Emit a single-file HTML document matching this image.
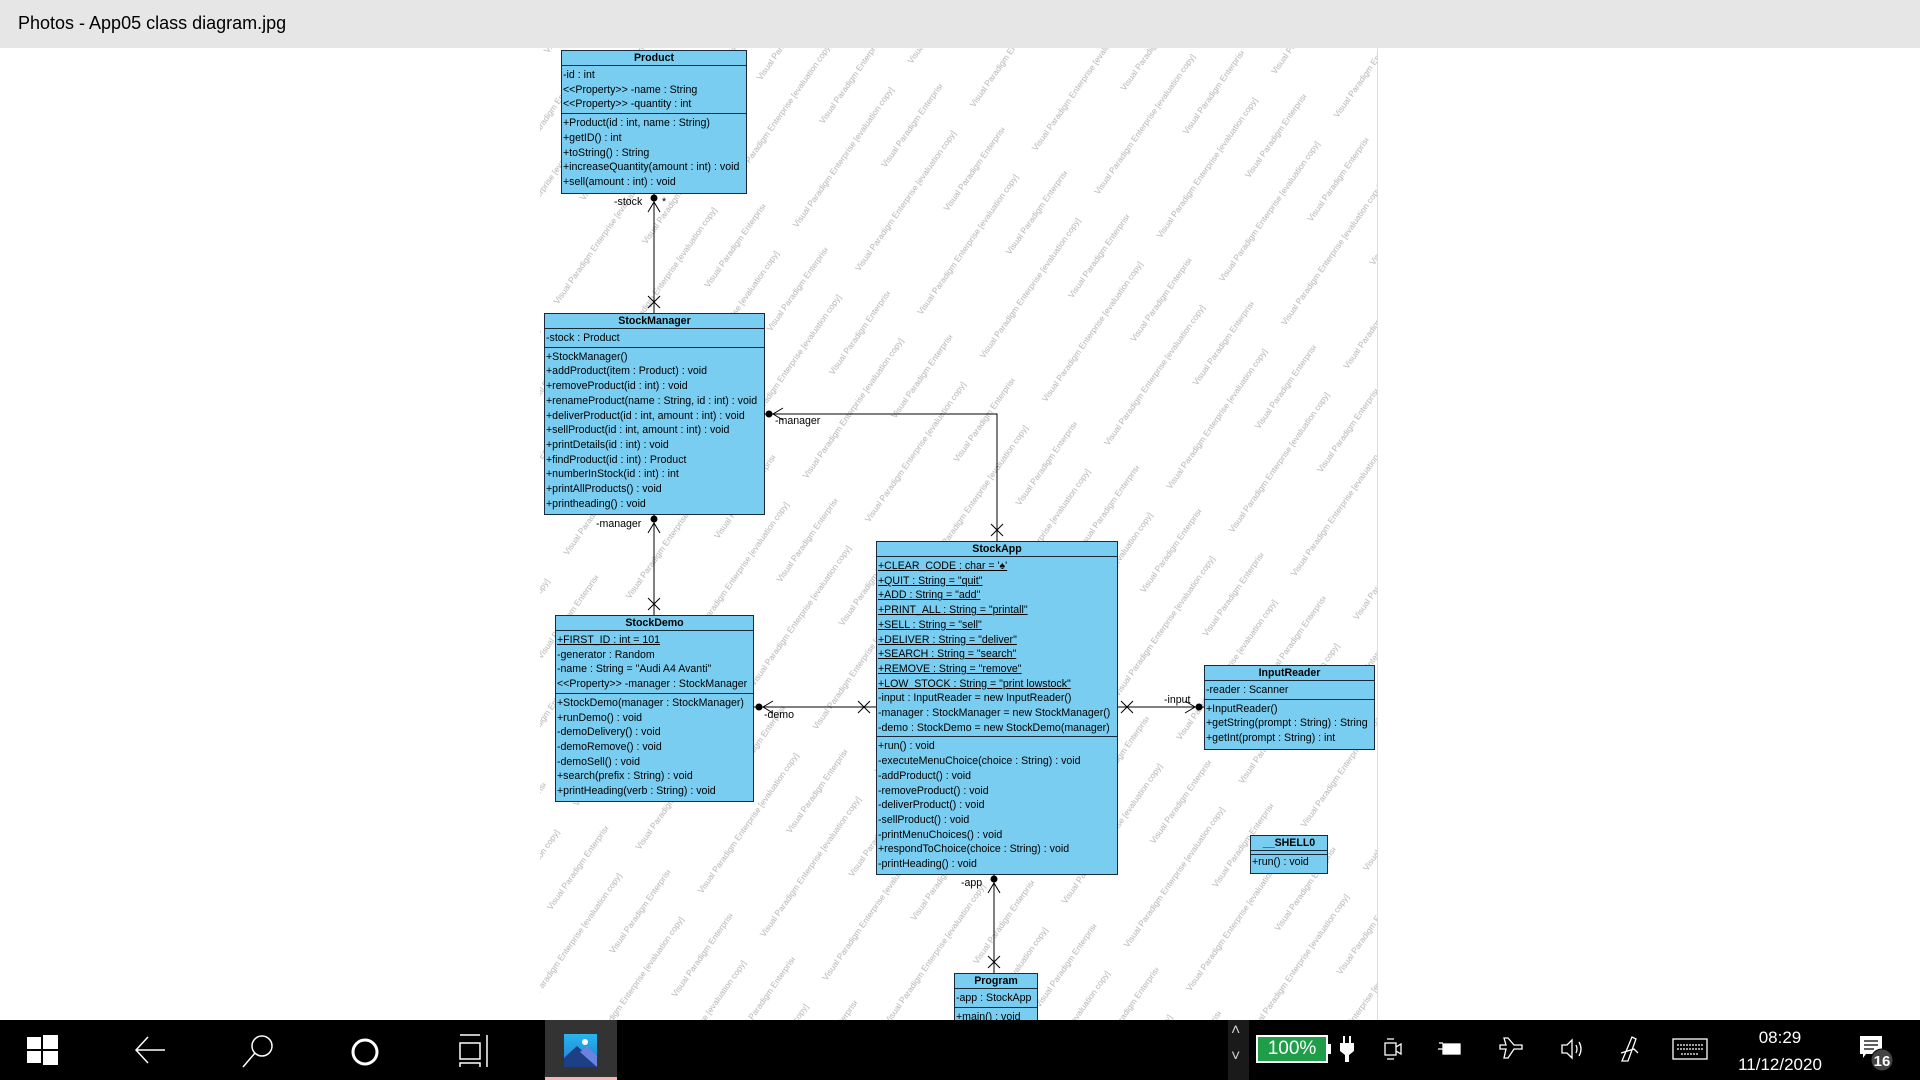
<!DOCTYPE html>
<html><head><meta charset="utf-8"><style>
*{margin:0;padding:0;box-sizing:border-box}
body{width:1920px;height:1080px;position:relative;overflow:hidden;background:#fff;font-family:"Liberation Sans",Arial,sans-serif}
.title{position:absolute;left:0;top:0;width:1920px;height:48px;background:#e6e6e6;font-size:18px;color:#000;padding:13px 0 0 18px}
.box{position:absolute;background:#79cdf0;border:1px solid #1a2a3a;font-size:10.6px;color:#000;overflow:hidden;white-space:nowrap;z-index:2}
.box .h{height:15px;line-height:14px;text-align:center;font-weight:bold;border-bottom:1px solid #1a2a3a}
.box .s{padding:2px 0 1px 1px;line-height:14.7px}
.box .s+.s{border-top:1px solid #1a2a3a}
u{text-decoration:underline}
.lbl{position:absolute;font-size:10.6px;color:#000;z-index:3}
.tb{position:absolute;left:0;top:1020px;width:1920px;height:60px;background:#000;z-index:10}
.tb *{position:absolute}
</style></head><body>
<div class="title">Photos - App05 class diagram.jpg</div>

<svg style="position:absolute;left:540px;top:48px;z-index:1" width="838" height="972">
<defs><pattern id="wm" width="200" height="76" patternUnits="userSpaceOnUse" patternTransform="rotate(-55)">
<text x="0" y="10" font-family="Liberation Sans" font-size="8.5" fill="#a0a0a0">Visual Paradigm Enterprise [evaluation copy]</text>
<text x="100" y="48" font-family="Liberation Sans" font-size="8.5" fill="#a0a0a0">Visual Paradigm Enterprise [evaluation copy]</text>
</pattern></defs>
<rect width="838" height="972" fill="url(#wm)" opacity="0.8"/>
<line x1="837.5" y1="0" x2="837.5" y2="972" stroke="#ddd"/>
</svg>

<svg style="position:absolute;left:0;top:0;z-index:4;pointer-events:none" width="1920" height="1080" fill="none" stroke="#000" stroke-width="1">
<line x1="654" y1="194" x2="654" y2="313"/>
<circle cx="654" cy="198" r="3" fill="#000"/>
<polyline points="648,212 654,202 660,212"/>
<path d="M648,296 L660,308 M660,296 L648,308"/>
<line x1="654" y1="514" x2="654" y2="615"/>
<circle cx="654" cy="519" r="3" fill="#000"/>
<polyline points="648,533 654,523 660,533"/>
<path d="M648,598 L660,610 M660,598 L648,610"/>
<polyline points="997,541 997,414 764,414"/>
<circle cx="769" cy="414" r="3" fill="#000"/>
<polyline points="783,408 773,414 783,420"/>
<path d="M991,524 L1003,536 M1003,524 L991,536"/>
<line x1="753" y1="707" x2="876" y2="707"/>
<circle cx="759" cy="707" r="3" fill="#000"/>
<polyline points="773,701 763,707 773,713"/>
<path d="M858,701 L870,713 M870,701 L858,713"/>
<line x1="1117" y1="707" x2="1204" y2="707"/>
<circle cx="1199" cy="707" r="3" fill="#000"/>
<polyline points="1185,701 1195,707 1185,713"/>
<path d="M1121,701 L1133,713 M1133,701 L1121,713"/>
<line x1="994" y1="874" x2="994" y2="973"/>
<circle cx="994" cy="879" r="3" fill="#000"/>
<polyline points="988,893 994,883 1000,893"/>
<path d="M988,956 L1000,968 M1000,956 L988,968"/>
</svg>
<div class="lbl" style="left:614px;top:196px">-stock</div>
<div class="lbl" style="left:662px;top:196px">*</div>
<div class="lbl" style="left:596px;top:518px">-manager</div>
<div class="lbl" style="left:775px;top:415px">-manager</div>
<div class="lbl" style="left:764px;top:709px">-demo</div>
<div class="lbl" style="left:1164px;top:694px">-input</div>
<div class="lbl" style="left:961px;top:877px">-app</div>

<div class="box" style="left:561px;top:50px;width:186px;height:144px">
<div class="h">Product</div>
<div class="s"><div>-id : int</div><div>&lt;&lt;Property&gt;&gt; -name : String</div><div>&lt;&lt;Property&gt;&gt; -quantity : int</div></div>
<div class="s"><div>+Product(id : int, name : String)</div><div>+getID() : int</div><div>+toString() : String</div><div>+increaseQuantity(amount : int) : void</div><div>+sell(amount : int) : void</div></div>
</div>

<div class="box" style="left:544px;top:313px;width:221px;height:202px">
<div class="h">StockManager</div>
<div class="s"><div>-stock : Product</div></div>
<div class="s"><div>+StockManager()</div><div>+addProduct(item : Product) : void</div><div>+removeProduct(id : int) : void</div><div>+renameProduct(name : String, id : int) : void</div><div>+deliverProduct(id : int, amount : int) : void</div><div>+sellProduct(id : int, amount : int) : void</div><div>+printDetails(id : int) : void</div><div>+findProduct(id : int) : Product</div><div>+numberInStock(id : int) : int</div><div>+printAllProducts() : void</div><div>+printheading() : void</div></div>
</div>

<div class="box" style="left:555px;top:615px;width:199px;height:187px">
<div class="h">StockDemo</div>
<div class="s"><div><u>+FIRST_ID : int = 101</u></div><div>-generator : Random</div><div>-name : String = "Audi A4 Avanti"</div><div>&lt;&lt;Property&gt;&gt; -manager : StockManager</div></div>
<div class="s"><div>+StockDemo(manager : StockManager)</div><div>+runDemo() : void</div><div>-demoDelivery() : void</div><div>-demoRemove() : void</div><div>-demoSell() : void</div><div>+search(prefix : String) : void</div><div>+printHeading(verb : String) : void</div></div>
</div>

<div class="box" style="left:876px;top:541px;width:242px;height:334px">
<div class="h">StockApp</div>
<div class="s"><div><u>+CLEAR_CODE : char = '♠'</u></div><div><u>+QUIT : String = "quit"</u></div><div><u>+ADD : String = "add"</u></div><div><u>+PRINT_ALL : String = "printall"</u></div><div><u>+SELL : String = "sell"</u></div><div><u>+DELIVER : String = "deliver"</u></div><div><u>+SEARCH : String = "search"</u></div><div><u>+REMOVE : String = "remove"</u></div><div><u>+LOW_STOCK : String = "print lowstock"</u></div><div>-input : InputReader = new InputReader()</div><div>-manager : StockManager = new StockManager()</div><div>-demo : StockDemo = new StockDemo(manager)</div></div>
<div class="s"><div>+run() : void</div><div>-executeMenuChoice(choice : String) : void</div><div>-addProduct() : void</div><div>-removeProduct() : void</div><div>-deliverProduct() : void</div><div>-sellProduct() : void</div><div>-printMenuChoices() : void</div><div>+respondToChoice(choice : String) : void</div><div>-printHeading() : void</div></div>
</div>

<div class="box" style="left:1204px;top:665px;width:171px;height:85px">
<div class="h">InputReader</div>
<div class="s"><div>-reader : Scanner</div></div>
<div class="s"><div>+InputReader()</div><div>+getString(prompt : String) : String</div><div>+getInt(prompt : String) : int</div></div>
</div>

<div class="box" style="left:1250px;top:835px;width:78px;height:39px">
<div class="h">__SHELL0</div>
<div class="s" style="padding:0;height:3px"></div>
<div class="s" style="padding-top:0"><div>+run() : void</div></div>
</div>

<div class="box" style="left:954px;top:973px;width:84px;height:60px">
<div class="h">Program</div>
<div class="s"><div>-app : StockApp</div></div>
<div class="s"><div>+main() : void</div></div>
</div>

<div class="tb">
<svg style="left:27px;top:14px" width="31" height="31"><g fill="#fff"><rect x="0" y="3" width="14" height="12"/><rect x="16" y="1" width="15" height="14"/><rect x="0" y="17" width="14" height="12"/><rect x="16" y="17" width="15" height="14"/></g></svg>
<svg style="left:134px;top:14px" width="32" height="32" fill="none" stroke="#fff" stroke-width="1.5"><path d="M31,16 H2 M14,3 L2,16 L14,29"/></svg>
<svg style="left:242px;top:14px" width="32" height="34" fill="none" stroke="#fff" stroke-width="1.5"><circle cx="20" cy="12" r="10"/><path d="M13,19 L1,33"/></svg>
<svg style="left:349px;top:16px" width="32" height="32" fill="none" stroke="#fff" stroke-width="3"><circle cx="16" cy="16" r="12"/></svg>
<svg style="left:458px;top:14px" width="32" height="34" fill="none" stroke="#fff" stroke-width="1.5"><path d="M2,1 H22 M2,9 H22 V25 H2 Z M2,33 V29 H22 V33 M29,1 V33"/></svg>
<div style="left:545px;top:0;width:72px;height:60px;background:#333"></div>
<div style="left:545px;top:57px;width:72px;height:3px;background:#f8b4b4"></div>
<svg style="left:564px;top:14px" width="33" height="33"><defs><linearGradient id="g" x1="0" y1="0" x2="0" y2="1"><stop offset="0" stop-color="#2ab4ef"/><stop offset="1" stop-color="#1a7fd0"/></linearGradient></defs><rect width="33" height="33" fill="url(#g)"/><circle cx="21" cy="8" r="3" fill="#fff"/><path d="M0,33 L0,24 L13,12 L33,30 L33,33Z" fill="#1d3f85"/><path d="M16,18 L23,12 L33,22 L33,33Z" fill="#6b83e0"/></svg>
<div style="left:1228px;top:0;width:21px;height:60px;background:#1a1a1a"></div>
<div style="left:1231px;top:2px;color:#ccc;font-size:16px">˄</div>
<div style="left:1231px;top:28px;color:#ccc;font-size:16px">˅</div>
<div style="left:1256px;top:15px;width:72px;height:28px;border:2px solid #fff;background:#1f9e4a;color:#fff;font-size:19px;line-height:24px;text-align:center">100%</div>
<div style="left:1328px;top:24px;width:3px;height:10px;background:#fff"></div>
<svg style="left:1340px;top:16px" width="14" height="26" fill="#fff"><rect x="3" y="0" width="2" height="7"/><rect x="9" y="0" width="2" height="7"/><path d="M0,7 H14 V15 L9,19 V26 H5 V19 L0,15Z"/></svg>
<svg style="left:1383px;top:17px" width="20" height="24" fill="none" stroke="#fff" stroke-width="1.3"><rect x="2" y="6" width="11" height="12"/><path d="M13,10 L18,7 V17 L13,14 M4,2 H11 M4,22 H11"/></svg>
<svg style="left:1438px;top:20px" width="24" height="18" fill="none" stroke="#fff" stroke-width="1.3"><rect x="5" y="4" width="17" height="10" fill="#fff"/><path d="M0,9 H5 M2,4 V2 M4,4 V2"/></svg>
<svg style="left:1498px;top:16px" width="26" height="26" fill="none" stroke="#fff" stroke-width="1.3"><path d="M2,9 L8,9 L6,2 L10,2 L16,9 L24,9 L24,13 L16,13 L10,22 L6,22 L8,13 L2,13Z"/></svg>
<svg style="left:1560px;top:17px" width="24" height="24" fill="none" stroke="#fff" stroke-width="1.3"><path d="M2,8 H7 L12,3 V21 L7,16 H2Z M16,8 Q18,12 16,16 M19,5 Q23,12 19,19"/></svg>
<svg style="left:1618px;top:15px" width="22" height="28" fill="none" stroke="#fff" stroke-width="1.3"><path d="M4,26 L14,2 L18,4 L10,26Z M3,18 L16,14 L20,18"/></svg>
<svg style="left:1672px;top:18px" width="36" height="22" fill="none" stroke="#fff" stroke-width="1.3"><rect x="1" y="1" width="34" height="20"/><path d="M5,7 H31 M5,11 H31 M9,16 H27" stroke-dasharray="2 1"/></svg>
<div style="left:1735px;top:8px;width:90px;text-align:center;color:#fff;font-size:17px">08:29</div>
<div style="left:1730px;top:35px;width:100px;text-align:center;color:#fff;font-size:17px">11/12/2020</div>
<svg style="left:1860px;top:16px" width="40" height="40"><path d="M0,0 H22 V18 H6 L3,22 V18 H0Z" fill="#fff"/><path d="M4,5 H18 M4,9 H18 M4,13 H14" stroke="#000" stroke-width="1.2"/><circle cx="22" cy="24" r="11" fill="#444" stroke="#000"/><text x="22" y="30" font-family="Liberation Sans" font-size="15" font-weight="bold" fill="#fff" text-anchor="middle">16</text></svg>
</div>
</body></html>
